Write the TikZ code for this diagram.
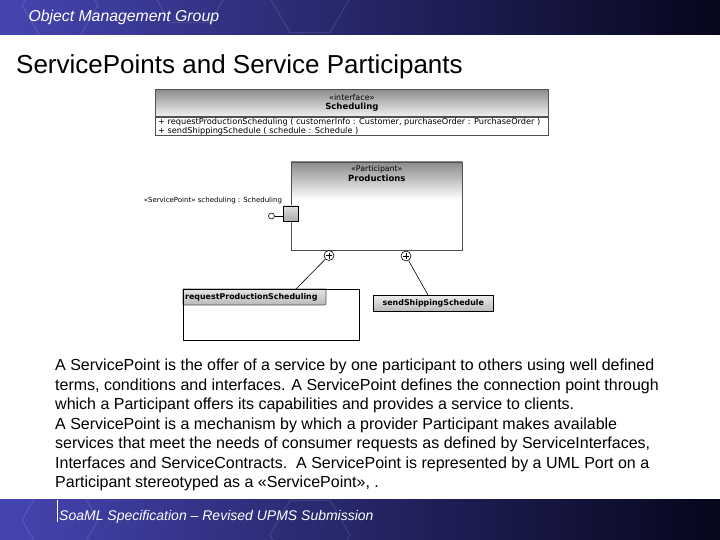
\documentclass[tikz,border=0pt]{standalone}
\usepackage{fontspec}
\setmainfont{Liberation Sans}
\newfontfamily\umlfont{DejaVu Sans}
\usepackage{tikz}
\usetikzlibrary{positioning}
\definecolor{OmgLeft}{HTML}{4545B2}
\definecolor{OmgMid}{HTML}{28288A}
\definecolor{OmgRight}{HTML}{06061C}
\definecolor{UmlLine}{HTML}{505050}
\definecolor{UmlShade}{HTML}{8C8C8C}

\begin{document}
\begin{tikzpicture}[x=1pt, y=-1pt,
    bar/.style={left color=OmgLeft, middle color=OmgMid, right color=OmgRight},
    hex/.style={draw=white, opacity=0.1, line width=1.2pt},
    vgrad/.style 2 args={top color=#1, bottom color=#2},
    umlbox/.style={rectangle, draw=UmlLine, line width=0.7pt, inner sep=0pt, anchor=north west},
    uml/.style={font=\umlfont\fontsize{7}{8}\selectfont},
    umlbold/.style={font=\umlfont\bfseries\fontsize{7.9}{9}\selectfont},
    plus/.style={circle, draw=black, fill=white, minimum size=10pt, inner sep=0pt, line width=0.6pt,
      path picture={\draw[line width=0.6pt] ([yshift=-3pt]path picture bounding box.center) -- ([yshift=3pt]path picture bounding box.center)
        ([xshift=-3pt]path picture bounding box.center) -- ([xshift=3pt]path picture bounding box.center);}},
    link/.style={draw=black, line width=0.6pt}
  ]
    \useasboundingbox (0,0) rectangle (720,540);

    % slide frame
    \shade[bar] (0,0) rectangle (720,35);
    \shade[bar] (0,499) rectangle (720,540);
    \foreach \cx/\cy/\r in {60/5/38, 190/-12/40, 310/-2/40, 60/520/38, 310/535/40}
      \draw[hex] (\cx+\r,\cy) -- ++(120:\r) -- ++(180:\r) -- ++(240:\r) -- ++(300:\r) -- ++(0:\r) -- cycle;
    \node[anchor=west, text=white, font=\itshape\fontsize{15.8}{17}\selectfont] (omg) at (25,17) {Object Management Group};
    \draw[white, line width=0.8pt] (57,500) -- (57,522);
    \node[anchor=west, text=white, font=\itshape\fontsize{14}{16}\selectfont, inner sep=1pt] (spec) at (58,517) {SoaML Specification -- Revised UPMS Submission};

    \node[anchor=west, font=\fontsize{26}{30}\selectfont, inner sep=0pt] (title) at (16,67) {ServicePoints and Service Participants};

    % interface
    \node[umlbox, minimum width=393pt, minimum height=27pt, vgrad={UmlShade}{gray!12}] (ifhead) at (155,89) {};
    \node[align=center, inner sep=0pt, font=\umlfont\fontsize{8}{9}\selectfont] (ifname) at ([yshift=-0.5pt]ifhead.center) {«interface»\\{\bfseries\fontsize{8.5}{9}\selectfont Scheduling}};
    \node[umlbox, minimum width=393pt, minimum height=18.5pt, fill=white, below=0pt of ifhead.south west, anchor=north west] (ifops) {};
    \node[anchor=north west, align=left, inner sep=0pt, font=\umlfont\fontsize{8.2}{8.4}\selectfont] (opstext) at (158,118.5) {+ requestProductionScheduling ( customerInfo : Customer, purchaseOrder : PurchaseOrder )\\+ sendShippingSchedule ( schedule : Schedule )};

    % participant
    \node[umlbox, minimum width=171pt, minimum height=88pt, fill=white, draw=none] (prod) at (291,162) {};
    \shade[vgrad={UmlShade}{white}] (prod.north west) rectangle ([yshift=-38pt]prod.north east);
    \draw[draw=UmlLine, line width=0.7pt] (prod.north west) rectangle (prod.south east);
    \node[align=center, inner sep=0pt, below=3pt of prod.north, font=\umlfont\fontsize{7.8}{10}\selectfont] (prodname) {«Participant»\\{\bfseries\fontsize{8.5}{10}\selectfont Productions}};
    \node[rectangle, draw=black, line width=0.7pt, minimum size=15pt, inner sep=0pt, vgrad={gray!25}{gray!65}] (port) at (291,213.5) {};
    \node[circle, draw=black, fill=white, minimum size=6pt, inner sep=0pt, line width=0.6pt] (lolly) at (271.5,216) {};
    \draw[link] (lolly) -- (lolly -| port.west);
    \node[uml, anchor=south east, inner sep=1pt] (portname) at (port.north west) {«ServicePoint» scheduling : Scheduling};

    \node[plus] (pl1) at (329,255.5) {};
    \node[plus] (pl2) at (406,256) {};

    % service point types
    \node[umlbox, minimum width=176pt, minimum height=51pt, fill=white] (req) at (183,289) {};
    \shade[vgrad={gray!20}{gray!55}, draw=UmlLine, line width=0.6pt]
      (183,289) -- (326,289) -- (326,301) .. controls (326,305) .. (322,305) -- (183,305) -- cycle;
    \node[umlbold, anchor=west, inner sep=1pt] (reqname) at (184,297) {requestProductionScheduling};
    \draw[draw=black, line width=0.8pt] (req.north west) rectangle (req.south east);
    \node[umlbox, minimum width=120pt, minimum height=16pt, vgrad={gray!15}{gray!55}, draw=black, umlbold] (send) at (373,295) {sendShippingSchedule};

    \coordinate (reqin) at (296,289);
    \coordinate (sendin) at (428,295);
    \draw[link] (pl1) -- (reqin);
    \draw[link] (pl2) -- (sendin);

    % text
    \node[anchor=north west, align=left, inner sep=0pt, font=\fontsize{16}{19.5}\selectfont] (para) at (55,359)
      {A ServicePoint is the offer of a service by one participant to others using well defined\\
       terms, conditions and interfaces. A ServicePoint defines the connection point through\\
       which a Participant offers its capabilities and provides a service to clients.\\
       A ServicePoint is a mechanism by which a provider Participant makes available\\
       services that meet the needs of consumer requests as defined by ServiceInterfaces,\\
       Interfaces and ServiceContracts.\ \ A ServicePoint is represented by a UML Port on a\\
       Participant stereotyped as a «ServicePoint», .};
  \end{tikzpicture}
\end{document}
